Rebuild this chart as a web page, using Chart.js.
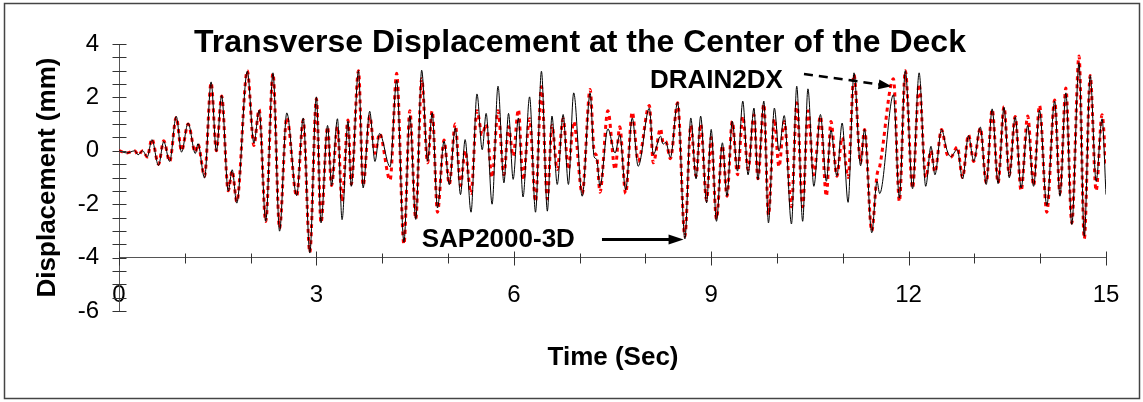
<!DOCTYPE html>
<html>
<head>
<meta charset="utf-8">
<script src="https://cdn.jsdelivr.net/npm/chart.js@4/dist/chart.umd.min.js"></script>
<style>
  html, body { margin: 0; padding: 0; background: #fff; }
  #wrap { width: 1143px; height: 402px; }
</style>
</head>
<body>
<div id="wrap"><canvas id="dispChart" width="1143" height="402"></canvas></div>
<script>
// time (sec) of each turning point
const time = [
  0.00, 0.12, 0.24, 0.29, 0.36, 0.43, 0.50, 0.60, 0.68, 0.77, 0.87, 0.95, 1.05, 1.16, 1.20, 1.30, 1.40, 1.48, 1.56, 1.66,
  1.72, 1.79, 1.95, 2.05, 2.13, 2.23, 2.34, 2.44, 2.55, 2.70, 2.80, 2.90, 3.00, 3.07, 3.17, 3.23, 3.32, 3.39, 3.48, 3.53,
  3.64, 3.71, 3.81, 3.89, 3.96, 4.12, 4.22, 4.33, 4.42, 4.51, 4.60, 4.69, 4.76, 4.84, 4.94, 5.02, 5.11, 5.19, 5.26, 5.35,
  5.44, 5.52, 5.58, 5.67, 5.76, 5.85, 5.92, 5.99, 6.07, 6.14, 6.24, 6.33, 6.42, 6.51, 6.58, 6.66, 6.75, 6.83, 6.91, 7.04,
  7.16, 7.22, 7.26, 7.31, 7.43, 7.54, 7.61, 7.70, 7.80, 7.89, 8.06, 8.12, 8.23, 8.27, 8.31, 8.38, 8.49, 8.60, 8.69, 8.77,
  8.84, 8.93, 9.00, 9.08, 9.17, 9.24, 9.32, 9.40, 9.48, 9.56, 9.65, 9.71, 9.80, 9.87, 9.96, 10.03, 10.11, 10.22, 10.30, 10.39,
  10.47, 10.56, 10.66, 10.75, 10.82, 10.91, 10.99, 11.08, 11.17, 11.27, 11.33, 11.44, 11.52, 11.56, 11.77, 11.86, 11.95, 12.06, 12.16, 12.26,
  12.34, 12.40, 12.50, 12.58, 12.64, 12.74, 12.82, 12.91, 12.99, 13.09, 13.18, 13.27, 13.36, 13.45, 13.53, 13.62, 13.71, 13.81, 13.90, 13.99,
  14.10, 14.22, 14.30, 14.39, 14.48, 14.59, 14.67, 14.76, 14.85, 14.94, 15.00
];

// SAP2000-3D (black line), mm
const sap2000 = [
  0.00, -0.08, 0.00, -0.15, 0.00, -0.23, 0.42, -0.55, 0.35, -0.40, 1.29, -0.05, 1.04, -0.10, 0.27, -1.02, 2.58, -0.02, 2.07, -1.51,
  -0.71, -1.96, 2.98, 0.29, 1.52, -2.64, 2.92, -3.01, 1.42, -1.68, 1.23, -3.83, 2.02, -2.70, 0.95, -1.30, 1.20, -2.58, 1.11, -1.33,
  3.00, -1.39, 1.48, -0.40, 0.65, -0.60, 2.64, -3.42, 1.32, -2.57, 3.02, -0.39, 1.42, -2.14, 0.36, -1.27, 0.86, -1.64, 0.42, -2.30,
  2.13, 0.04, 1.40, -2.00, 2.42, -1.20, 1.40, -1.07, 1.23, -1.73, 2.02, -2.30, 2.98, -2.26, 1.30, -1.26, 1.36, -1.26, 2.17, -1.70,
  2.17, -0.22, -0.32, -1.33, 0.82, -0.08, 0.60, -1.46, 1.23, -0.58, 1.60, -0.14, 0.55, 0.25, 0.32, -0.25, 1.82, -3.30, 1.23, -1.05,
  1.30, -1.95, 0.80, -2.64, 0.30, -1.70, 1.11, -0.76, 1.86, -0.90, 1.60, -1.08, 1.86, -2.70, 1.60, -0.01, 1.32, -2.74, 2.42, -2.64,
  2.32, -1.33, 1.36, -1.14, 0.77, -0.95, 1.04, -1.93, 2.92, -0.56, 0.80, -3.07, -1.15, -1.60, 2.10, -1.77, 3.00, -1.42, 2.92, -1.33,
  0.17, -0.90, 0.80, 0.05, -0.22, 0.05, -1.05, 0.57, -0.39, 0.89, -1.26, 1.57, -1.23, 1.63, -1.01, 1.27, -1.39, 0.95, -1.33, 1.52,
  -2.05, 1.86, -1.70, 2.17, -2.76, 3.30, -3.20, 2.82, -1.14, 1.20, -1.64
];

// DRAIN2DX (red dotted line), mm
const drain2dx = [
  0.00, -0.08, 0.00, -0.15, 0.00, -0.23, 0.45, -0.50, 0.38, -0.40, 1.25, 0.00, 1.00, -0.05, 0.25, -0.95, 2.55, 0.00, 2.05, -1.50,
  -0.75, -1.90, 3.00, 0.20, 1.55, -2.65, 2.90, -2.90, 1.25, -1.70, 1.15, -3.80, 1.95, -2.70, 0.90, -1.30, 0.90, -1.90, 1.15, -1.25,
  3.00, -1.30, 1.30, -0.10, 0.65, -1.10, 2.90, -3.50, 1.50, -2.55, 2.70, -0.45, 1.50, -2.30, 0.40, -1.25, 1.00, -1.30, 0.00, -1.60,
  1.50, 0.60, 1.00, -1.00, 1.50, -0.90, 0.90, -0.20, 1.55, -1.10, 1.20, -1.90, 2.40, -1.80, 0.95, -0.70, 1.20, -0.70, 1.10, -1.60,
  2.30, 0.00, -0.20, -1.55, 1.50, -0.70, 0.90, -1.60, 1.45, -0.40, 1.70, -0.45, 0.83, 0.30, 0.35, -0.30, 1.80, -3.20, 0.95, -0.95,
  1.00, -1.85, 0.50, -2.55, 0.20, -1.70, 1.10, -0.90, 1.30, -0.70, 1.35, -1.05, 1.75, -2.40, 1.20, -0.60, 1.10, -2.10, 1.80, -2.10,
  1.50, -0.90, 1.30, -1.70, 1.10, -0.95, 0.50, -1.00, 2.85, -0.45, 0.80, -3.00, -0.90, -0.60, 2.70, -1.90, 3.00, -1.40, 2.50, -1.00,
  0.00, -0.80, 0.80, -0.10, -0.25, 0.15, -1.00, 0.60, -0.40, 0.85, -1.20, 1.55, -1.20, 1.65, -0.90, 1.28, -1.50, 1.30, -1.30, 1.70,
  -2.30, 1.90, -1.60, 2.35, -2.70, 3.55, -3.30, 2.82, -1.50, 1.35, -0.60
];

const xTickStep = 3;
const yTickStep = 2;
const font = "'Liberation Sans', Arial, sans-serif";

const toPoints = vals => time.map((t, i) => ({ x: t, y: vals[i] }));

// arrows + labels, placed in data units
const sapLabel = { text: 'SAP2000-3D', x: 4.6, y: -3.62, from: [7.34, -3.32], to: [8.58, -3.32] };
const drainLabel = { text: 'DRAIN2DX', x: 8.07, y: 2.37, from: [10.41, 2.88], to: [11.74, 2.42] };

function arrowHead(ctx, x1, y1, x2, y2, len, half) {
  const a = Math.atan2(y2 - y1, x2 - x1);
  ctx.beginPath();
  ctx.moveTo(x2, y2);
  ctx.lineTo(x2 - len * Math.cos(a) + half * Math.sin(a), y2 - len * Math.sin(a) - half * Math.cos(a));
  ctx.lineTo(x2 - len * Math.cos(a) - half * Math.sin(a), y2 - len * Math.sin(a) + half * Math.cos(a));
  ctx.closePath();
  ctx.fill();
}

const decorPlugin = {
  id: 'decor',
  beforeDraw(chart) {
    const { ctx } = chart;
    ctx.save();
    ctx.fillStyle = '#fff';
    ctx.fillRect(0, 0, chart.width, chart.height);
    ctx.restore();
  },
  afterDraw(chart) {
    const { ctx } = chart;
    const xs = chart.scales.x, ys = chart.scales.y;
    ctx.save();

    // cross tick marks on both axes
    ctx.strokeStyle = '#333';
    ctx.lineWidth = 1;
    const ax = Math.round(xs.getPixelForValue(0)) + 0.5;
    for (let v = ys.min; v <= ys.max + 1e-9; v += 0.5) {
      const py = Math.round(ys.getPixelForValue(v)) + 0.5;
      ctx.beginPath(); ctx.moveTo(ax - 7, py); ctx.lineTo(ax + 7, py); ctx.stroke();
    }
    const ay = Math.round(ys.getPixelForValue(-4)) + 0.5;
    for (let v = xs.min; v <= xs.max + 1e-9; v += 1) {
      const px = Math.round(xs.getPixelForValue(v)) + 0.5;
      const h = v % 3 === 0 ? 7 : 5;
      ctx.beginPath(); ctx.moveTo(px, ay - h); ctx.lineTo(px, ay + h); ctx.stroke();
    }

    // titles
    ctx.fillStyle = '#000';
    ctx.textAlign = 'center';
    ctx.textBaseline = 'alphabetic';
    ctx.font = `bold 32px ${font}`;
    ctx.fillText('Transverse Displacement at the Center of the Deck', 580, 52);
    ctx.font = `bold 26px ${font}`;
    ctx.fillText('Time (Sec)', 613, 365);

    // series labels with arrows
    ctx.textAlign = 'left';
    [sapLabel, drainLabel].forEach(l => {
      ctx.fillText(l.text, xs.getPixelForValue(l.x), ys.getPixelForValue(l.y));
    });

    ctx.strokeStyle = '#000';
    let x1 = xs.getPixelForValue(sapLabel.from[0]), y1 = ys.getPixelForValue(sapLabel.from[1]);
    let x2 = xs.getPixelForValue(sapLabel.to[0]), y2 = ys.getPixelForValue(sapLabel.to[1]);
    ctx.lineWidth = 3;
    ctx.beginPath(); ctx.moveTo(x1, y1); ctx.lineTo(x2 - 10, y2); ctx.stroke();
    arrowHead(ctx, x1, y1, x2, y2, 15, 5);

    x1 = xs.getPixelForValue(drainLabel.from[0]); y1 = ys.getPixelForValue(drainLabel.from[1]);
    x2 = xs.getPixelForValue(drainLabel.to[0]); y2 = ys.getPixelForValue(drainLabel.to[1]);
    ctx.lineWidth = 2.5;
    ctx.setLineDash([9, 6]);
    ctx.beginPath(); ctx.moveTo(x1, y1); ctx.lineTo(x2 - 10, y2 - 1.5); ctx.stroke();
    ctx.setLineDash([]);
    arrowHead(ctx, x1, y1, x2, y2, 13, 5);

    // outer frame
    ctx.strokeStyle = '#444';
    ctx.lineWidth = 1.5;
    ctx.strokeRect(4.5, 3.5, 1135, 395);
    ctx.restore();
  }
};

new Chart(document.getElementById('dispChart').getContext('2d'), {
  type: 'line',
  data: {
    datasets: [
      {
        label: 'SAP2000-3D',
        data: toPoints(sap2000),
        borderColor: '#000',
        borderWidth: 1,
        pointRadius: 0,
        cubicInterpolationMode: 'monotone',
        fill: false
      },
      {
        label: 'DRAIN2DX',
        data: toPoints(drain2dx),
        borderColor: '#ff0000',
        borderWidth: 3,
        borderDash: [4, 4],
        pointRadius: 0,
        cubicInterpolationMode: 'monotone',
        fill: false
      }
    ]
  },
  options: {
    responsive: false,
    animation: false,
    devicePixelRatio: 1,
    layout: { padding: { top: 44, right: 37, left: 0, bottom: 91 } },
    plugins: {
      legend: { display: false },
      title: { display: false },
      tooltip: { enabled: false }
    },
    scales: {
      x: {
        type: 'linear',
        axis: 'x',
        position: { y: -4 },
        min: 0,
        max: 15,
        ticks: {
          stepSize: xTickStep,
          color: '#000',
          padding: 23,
          maxRotation: 0,
          font: { family: font, size: 24 }
        },
        grid: { drawOnChartArea: false, drawTicks: false },
        border: { color: '#555', width: 1 }
      },
      y: {
        type: 'linear',
        position: 'left',
        min: -6,
        max: 4,
        afterFit: s => { s.width = 119; },
        ticks: {
          stepSize: yTickStep,
          color: '#000',
          padding: 20,
          font: { family: font, size: 24 }
        },
        grid: { drawOnChartArea: false, drawTicks: false },
        border: { color: '#555', width: 1 },
        title: {
          display: true,
          text: 'Displacement (mm)',
          color: '#000',
          padding: { top: 32, bottom: 0 },
          font: { family: font, size: 26, weight: 'bold' }
        }
      }
    }
  },
  plugins: [decorPlugin]
});
</script>
</body>
</html>
